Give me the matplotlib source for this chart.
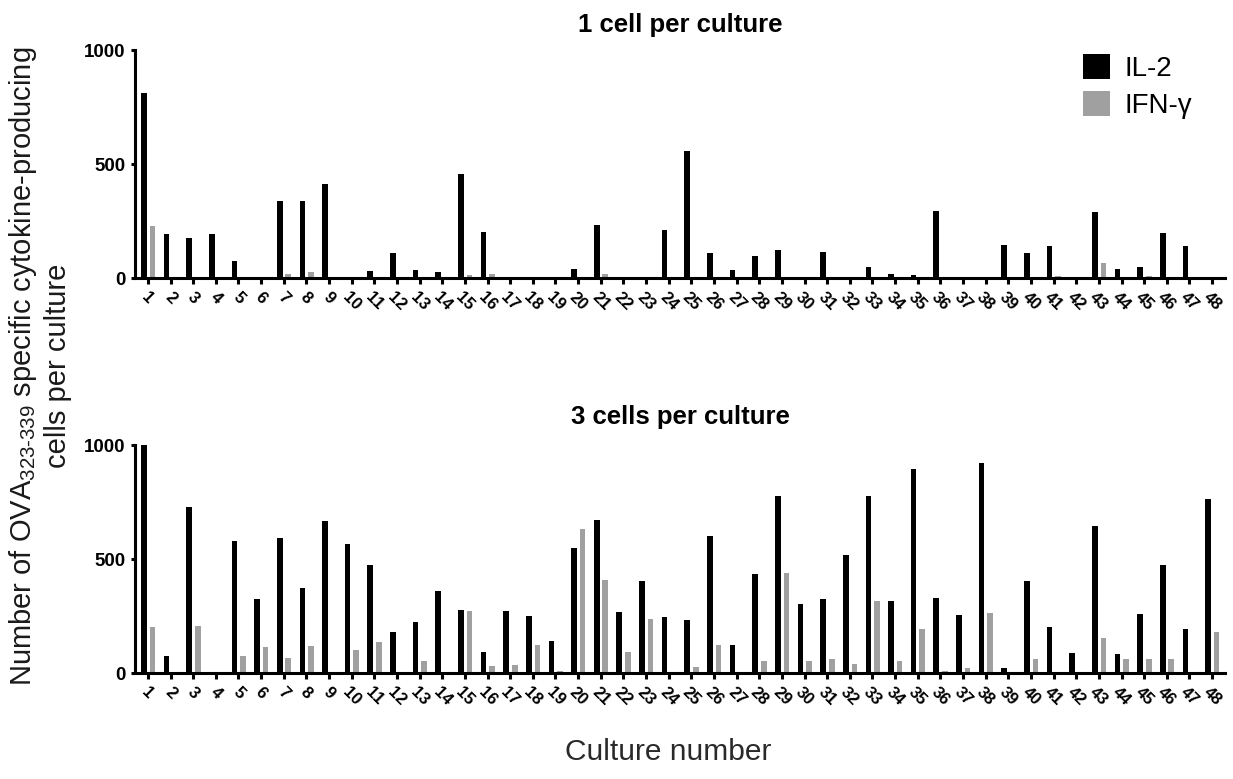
import numpy as np
import matplotlib as mpl
import matplotlib.pyplot as plt
from matplotlib.patches import Patch

plt.switch_backend('Agg')

mpl.rcParams['font.family'] = ['Liberation Sans', 'DejaVu Sans']
mpl.rcParams['mathtext.default'] = 'regular'

# Culture numbers
cultures = np.arange(1, 49)

# 1 cell per culture
il2_one = [813, 194, 174, 194, 76, 0, 339, 339, 412, 0,
           31, 111, 35, 28, 458, 203, 0, 0, 0, 39,
           231, 0, 0, 212, 559, 111, 35, 95, 123, 0,
           115, 0, 47, 18, 12, 295, 7, 0, 147, 111,
           139, 0, 290, 42, 50, 199, 139, 0]
ifn_one = [228, 0, 0, 0, 0, 0, 19, 28, 0, 0,
           0, 0, 0, 0, 13, 19, 0, 0, 0, 0,
           16, 0, 0, 0, 0, 0, 0, 0, 0, 0,
           0, 0, 0, 0, 4, 0, 0, 0, 0, 0,
           10, 0, 67, 0, 9, 0, 0, 0]

# 3 cells per culture
il2_three = [1000, 73, 730, 0, 577, 326, 591, 372, 666, 565,
             474, 181, 226, 361, 277, 93, 273, 250, 142, 550,
             672, 266, 403, 245, 231, 601, 124, 434, 778, 302,
             326, 517, 775, 314, 893, 330, 254, 920, 22, 403,
             201, 89, 647, 82, 258, 474, 194, 762]
ifn_three = [203, 0, 207, 0, 76, 114, 67, 118, 0, 99,
             136, 0, 53, 0, 270, 31, 34, 123, 10, 632,
             409, 91, 239, 0, 26, 123, 0, 55, 439, 55,
             60, 38, 317, 53, 193, 10, 23, 264, 0, 63,
             0, 0, 155, 63, 63, 63, 0, 182]

panel_titles = ['1 cell per culture', '3 cells per culture']
series_labels = ['IL-2', 'IFN-\u03b3']
black = '#000000'
grey = '#a0a0a0'

fig = plt.figure(figsize=(12.33, 7.79), dpi=100)
ax_top = fig.add_axes([0.1095, 0.643, 0.884, 0.2927])
ax_bot = fig.add_axes([0.1095, 0.136, 0.884, 0.2927])

bw = 0.25
for ax, il2, ifn in [(ax_top, il2_one, ifn_one), (ax_bot, il2_three, ifn_three)]:
    ax.bar(cultures - 0.18, il2, width=bw, color=black, linewidth=0)
    ax.bar(cultures + 0.2, ifn, width=bw, color=grey, linewidth=0)
    ax.set_xlim(0.43, 48.57)
    ax.set_ylim(0, 1000)
    ax.set_yticks([0, 500, 1000])
    ax.set_xticks(cultures)
    ax.set_xticklabels([str(c) for c in cultures], rotation=-45, ha='center',
                       fontsize=12, fontweight='bold')
    for lab in ax.get_yticklabels():
        lab.set_fontsize(13.5)
        lab.set_fontweight('bold')
    for side in ['top', 'right']:
        ax.spines[side].set_visible(False)
    for side in ['left', 'bottom']:
        ax.spines[side].set_linewidth(2.2)
    ax.tick_params(axis='x', length=4, width=2.2, pad=4)
    ax.tick_params(axis='y', length=3, width=2.2, pad=4)

fig.text(0.5515, 0.968, panel_titles[0], ha='center', va='center',
         fontsize=18.5, fontweight='bold')
fig.text(0.5515, 0.4647, panel_titles[1], ha='center', va='center',
         fontsize=18.5, fontweight='bold')

# Shared axis labels
fig.text(0.032, 0.53,
         'Number of OVA$_{323\u2010339}$ specific cytokine-producing\ncells per culture',
         rotation=90, ha='center', va='center', multialignment='center',
         fontsize=21, color='#1a1a1a', linespacing=1.2)
fig.text(0.542, 0.035, 'Culture number', ha='center', va='center',
         fontsize=21.5, color='#2a2a2a')

handles = [Patch(facecolor=black, edgecolor='none'),
           Patch(facecolor=grey, edgecolor='none')]
ax_top.legend(handles, series_labels, loc='upper left',
              bbox_to_anchor=(0.878, 0.931), bbox_transform=fig.transFigure,
              frameon=False, fontsize=20, handlelength=0.97, handleheight=1.0,
              handletextpad=0.55, labelspacing=0.35, borderpad=0, borderaxespad=0)

fig.savefig('out.png', dpi=100)
